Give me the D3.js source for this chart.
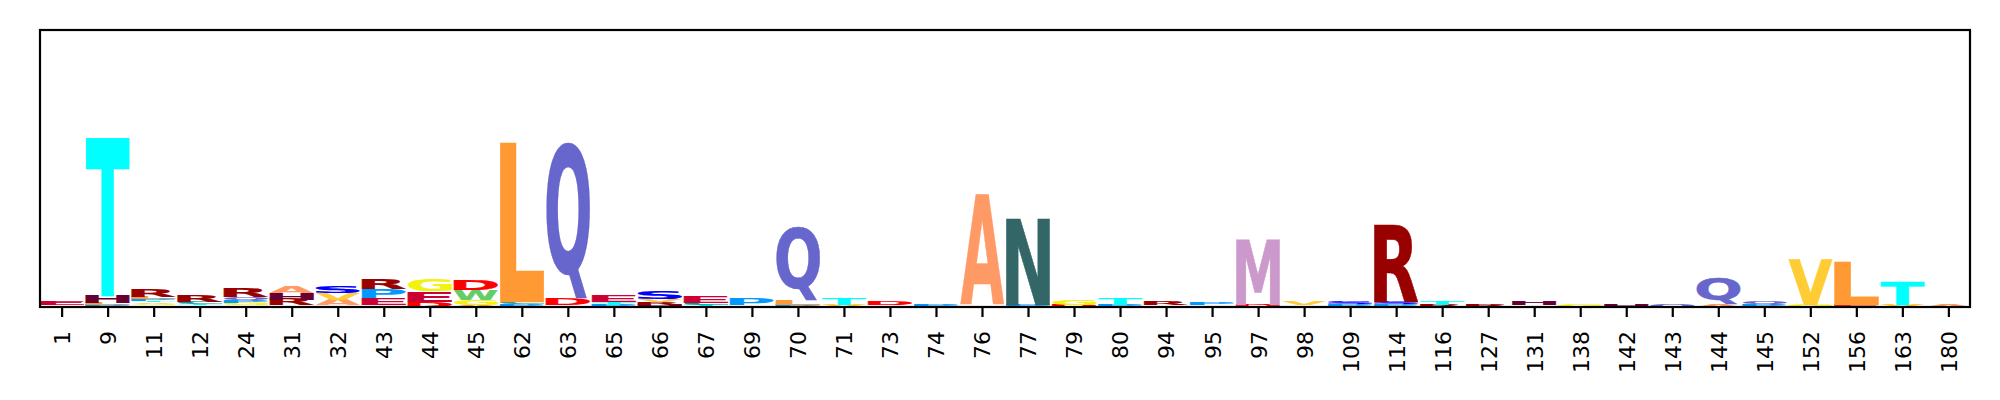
<!DOCTYPE html>
<html><head><meta charset="utf-8">
<script src="https://cdn.jsdelivr.net/npm/d3@7"></script>
<style>body{margin:0;background:#fff} svg{display:block}</style>
</head><body><svg id="chart" width="2000" height="400"></svg>
<script>
// Position labels (x tick labels)
const positions = ["1","9","11","12","24","31","32","43","44","45","62","63","65","66","67","69","70","71","73","74","76","77","79","80","94","95","97","98","109","114","116","127","131","138","142","143","144","145","152","156","163","180"];
// Letters in each stack, bottom to top
const stackLetters = ["AE","PLHT","IGVTPLR","PTCR","SGPQR","VRHA","RAVS","AEPR","DEG","AGWD","PCL","GDQ","PTE","HRVS","TCE","VP","PLQ","VT","SD","P","GA","PN","DG","PT","PR","SP","DM","CV","PS","PSR","RT","R","LH","G","H","Q","AQ","PQ","GV","EL","VT","A"];
// Letter heights (bits), bottom to top, matching stackLetters
const stackValues = [
  [0.013,0.024],
  [0.014,0.014,0.053,1.149],
  [0.011,0.011,0.011,0.009,0.014,0.018,0.054],
  [0.011,0.011,0.014,0.048],
  [0.011,0.017,0.022,0.022,0.065],
  [0.011,0.043,0.043,0.050],
  [0.011,0.043,0.048,0.050],
  [0.011,0.050,0.067,0.076],
  [0.036,0.076,0.086],
  [0.014,0.040,0.070,0.076],
  [0.018,0.018,1.145],
  [0.011,0.043,1.138],
  [0.014,0.022,0.043],
  [0.016,0.020,0.022,0.054],
  [0.014,0.017,0.047],
  [0.011,0.042],
  [0.014,0.037,0.530],
  [0.013,0.047],
  [0.013,0.027],
  [0.017],
  [0.013,0.800],
  [0.015,0.620],
  [0.015,0.040],
  [0.015,0.050],
  [0.013,0.027],
  [0.013,0.022],
  [0.015,0.468],
  [0.013,0.027],
  [0.018,0.018],
  [0.018,0.018,0.558],
  [0.013,0.027],
  [0.017],
  [0.013,0.027],
  [0.016],
  [0.016],
  [0.017],
  [0.015,0.195],
  [0.018,0.022],
  [0.015,0.332],
  [0.018,0.313],
  [0.018,0.169],
  [0.016]
];
const letterColors = {A:'#FF9966',C:'#009999',D:'#FF0000',E:'#CC0033',F:'#00FF00',G:'#f2f20c',H:'#660033',I:'#CC9933',K:'#663300',L:'#FF9933',M:'#CC99CC',N:'#336666',P:'#0099FF',Q:'#6666CC',R:'#990000',S:'#0000FF',T:'#00FFFF',V:'#FFCC33',W:'#66CC66',Y:'#006600'};
const yMax = 2.0;

(function () {
const svg = d3.select('#chart');
const plotLeft = 40, plotRight = 1970, plotTop = 30, plotBottom = 307;
const x = d3.scaleLinear().domain([-0.47, positions.length - 1 + 0.47]).range([plotLeft, plotRight]);
const y = d3.scaleLinear().domain([0, yMax]).range([plotBottom, plotTop]);

// measure glyph ink extents
const ctx = document.createElement('canvas').getContext('2d');
const FONT = "'DejaVu Sans', 'Liberation Sans', sans-serif";
ctx.font = "bold 100px " + FONT;
const metricCache = {};
function metrics(ch) {
  if (!metricCache[ch]) {
    const t = ctx.measureText(ch);
    metricCache[ch] = {l: t.actualBoundingBoxLeft, r: t.actualBoundingBoxRight, a: t.actualBoundingBoxAscent, d: t.actualBoundingBoxDescent};
  }
  return metricCache[ch];
}

const glyphs = [];
stackLetters.forEach((letters, i) => {
  let cum = 0;
  letters.split('').forEach((ch, j) => {
    const v = stackValues[i][j];
    glyphs.push({ch, i, y0: cum, y1: cum + v});
    cum += v;
  });
});

const glyphWidth = 0.95;
svg.append('g').selectAll('text').data(glyphs).join('text')
  .text(d => d.ch)
  .attr('font-family', FONT)
  .attr('font-weight', 'bold')
  .attr('font-size', 100)
  .attr('fill', d => letterColors[d.ch])
  .attr('stroke', d => letterColors[d.ch])
  .attr('stroke-width', 0.5)
  .attr('vector-effect', 'non-scaling-stroke')
  .attr('transform', d => {
    const m = metrics(d.ch);
    const x0 = x(d.i - glyphWidth / 2), x1 = x(d.i + glyphWidth / 2);
    const yt = y(d.y1), yb = y(d.y0);
    const sx = (x1 - x0) / (m.l + m.r), sy = (yb - yt) / (m.a + m.d);
    return `translate(${x0},${yt}) scale(${sx},${sy}) translate(${m.l},${m.a})`;
  });

// x axis
const axis = d3.axisBottom(x)
  .tickValues(d3.range(positions.length))
  .tickFormat(i => positions[i])
  .tickSize(10)
  .tickSizeOuter(0);
const gx = svg.append('g').attr('transform', `translate(0,${plotBottom})`).call(axis);
gx.select('.domain').remove();
gx.selectAll('.tick line').attr('stroke', '#000').attr('stroke-width', 2.2);
gx.selectAll('.tick text')
  .attr('font-family', "'DejaVu Sans', sans-serif")
  .attr('font-size', 22)
  .attr('fill', '#000')
  .attr('transform', 'rotate(-90)')
  .attr('text-anchor', 'end')
  .attr('x', -24)
  .attr('y', 0)
  .attr('dy', '0.36em');

// frame
svg.append('rect')
  .attr('x', plotLeft).attr('y', plotTop)
  .attr('width', plotRight - plotLeft).attr('height', plotBottom - plotTop)
  .attr('fill', 'none').attr('stroke', '#000').attr('stroke-width', 2.2);
})();
</script>
</body></html>
